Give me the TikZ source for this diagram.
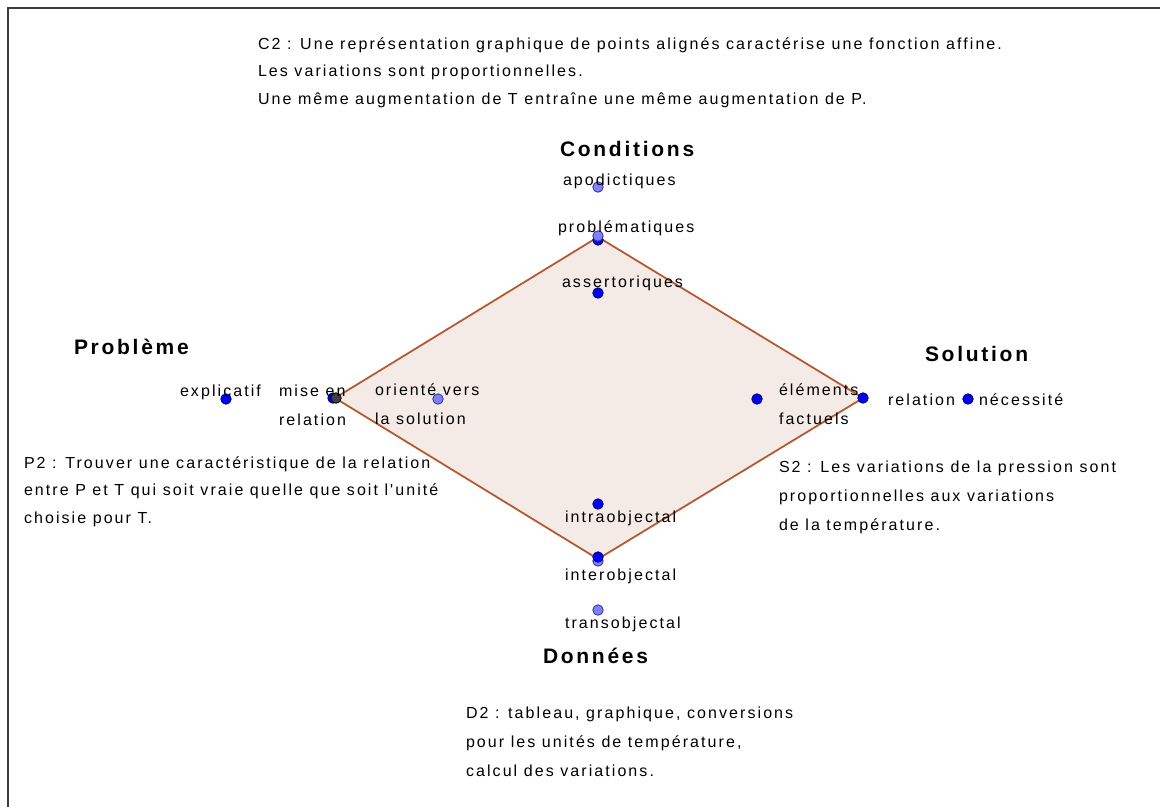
\documentclass[tikz,border=0pt]{standalone}
\usepackage{fontspec}
\newfontfamily\ggfont{Liberation Sans}[LetterSpace=13]
\definecolor{dblue}{RGB}{0,0,255}
\definecolor{lblue}{RGB}{128,128,255}
\definecolor{dring}{RGB}{0,0,100}
\definecolor{dgrey}{RGB}{64,64,64}
\definecolor{polyfill}{RGB}{245,235,230}
\definecolor{polyline}{RGB}{180,90,50}
\definecolor{frame}{RGB}{60,60,60}
\tikzset{
  lbl/.style={anchor=base west, inner sep=0pt, outer sep=0pt, align=left, font=\ggfont\fontsize{16}{29}\selectfont},
  lblc/.style={lbl, font=\ggfont\fontsize{16}{27.5}\selectfont},
  head/.style={anchor=base west, inner sep=0pt, outer sep=0pt, font=\ggfont\fontsize{21}{24}\selectfont\bfseries},
  dotb/.style={circle, inner sep=0pt, minimum size=10.5pt, fill=dblue, draw=dring, line width=0.8pt},
  dotl/.style={circle, inner sep=0pt, minimum size=10.5pt, fill=lblue, draw=dring!80, line width=0.8pt},
  dotg/.style={circle, inner sep=0pt, minimum size=10.5pt, fill=dgrey, draw=black, line width=0.8pt},
}
\begin{document}
\begin{tikzpicture}[x=1pt,y=-1pt]
\useasboundingbox (0,0) rectangle (1160,807);
% frame
\draw[frame, line width=2pt] (8,807) -- (8,7.5) -- (1160,7.5);
% rhombus
\coordinate (T) at (598,237);
\coordinate (L) at (335,398);
\coordinate (R) at (863,398);
\coordinate (B) at (598,559);
\draw[polyline, fill=polyfill, line width=1.8pt, line join=miter] (T) -- (R) -- (B) -- (L) -- cycle;
% texts (base anchor = baseline of the last line)
\node[lblc] (c2) at (258,104) {C2 : Une représentation graphique de points alignés caractérise une fonction affine.\\Les variations sont proportionnelles.\\Une même augmentation de T entraîne une même augmentation de P.};
\node[head] (hcond) at (560,156) {Conditions};
\node[head] (hprob) at (74,354) {Problème};
\node[head] (hsol) at (925,361) {Solution};
\node[head] (hdon) at (543,663) {Données};
\node[lblc] (p2) at (24,523) {P2 : Trouver une caractéristique de la relation\\entre P et T qui soit vraie quelle que soit l'unité\\choisie pour T.};
\node[lbl] (s2) at (779,530) {S2 : Les variations de la pression sont\\proportionnelles aux variations\\de la température.};
\node[lbl] (d2) at (466,776) {D2 : tableau, graphique, conversions\\pour les unités de température,\\calcul des variations.};
% dots
\node[dotl] (apo) at (598,187) {};
\node[dotb] (prob2) at (598,240) {};
\node[dotl] (prob) at (598,236) {};
\node[dotb] (ass) at (598,293) {};
\node[dotb] (expl) at (226,399) {};
\node[dotb] (mise2) at (333,398) {};
\node[dotg] (mise) at (336,398) {};
\node[dotl] (orie) at (438,399) {};
\node[dotb] (elem) at (757,399) {};
\node[dotb] (rel) at (863,398) {};
\node[dotb] (nec) at (968,399) {};
\node[dotb] (intra) at (598,504) {};
\node[dotl] (inter2) at (598,561) {};
\node[dotb] (inter) at (598,557) {};
\node[dotl] (trans) at (598,610) {};
% labels
\node[lbl] (lapo) at (563,185) {apodictiques};
\node[lbl] (lprob) at (558,232) {problématiques};
\node[lbl] (lass) at (562,287) {assertoriques};
\node[lbl] (lexpl) at (180,396) {explicatif};
\node[lbl] (lmise) at (279,425) {mise en\\relation};
\node[lbl] (lorie) at (375,424) {orienté vers\\la solution};
\node[lbl] (lelem) at (779,424) {éléments\\factuels};
\node[lbl] (lrel) at (888,405) {relation};
\node[lbl] (lnec) at (979,405) {nécessité};
\node[lbl] (lintra) at (565,522) {intraobjectal};
\node[lbl] (linter) at (565,580) {interobjectal};
\node[lbl] (ltrans) at (565,628) {transobjectal};
\end{tikzpicture}
\end{document}
